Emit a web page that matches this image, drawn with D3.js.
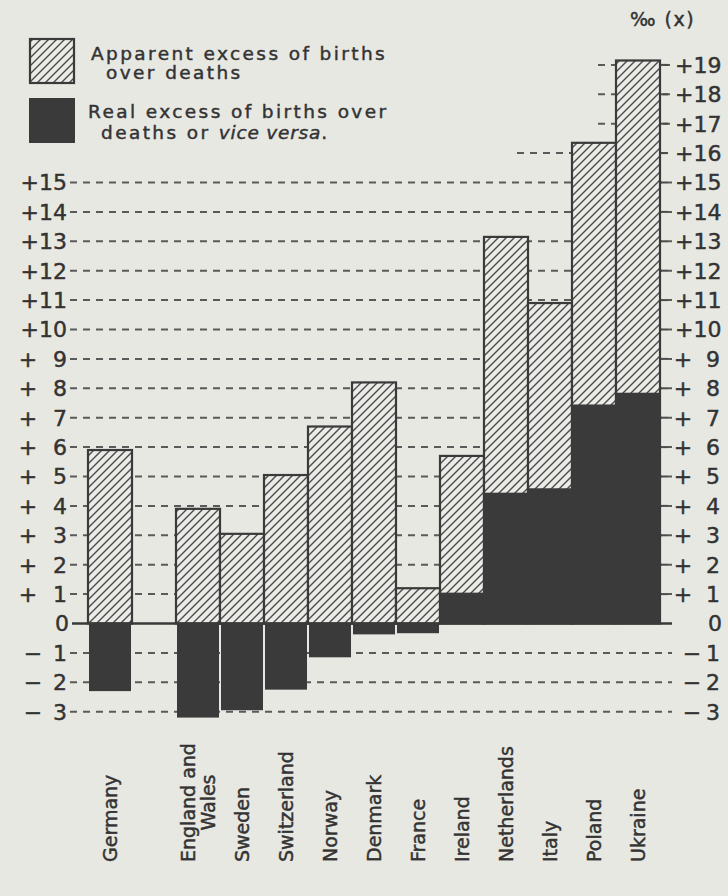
<!DOCTYPE html>
<html>
<head>
<meta charset="utf-8">
<script src="https://cdn.jsdelivr.net/npm/d3@7/dist/d3.min.js"></script>
<style>
  html, body { margin: 0; padding: 0; background: #e8e8e3; }
  svg { display: block; }
  text { font-family: "DejaVu Sans", sans-serif; fill: #333; stroke: #333; stroke-width: 0.45px; }
</style>
</head>
<body>
<script>
// ---- data ----
const categories = ["Germany", "England and Wales", "Sweden", "Switzerland", "Norway", "Denmark",
                    "France", "Ireland", "Netherlands", "Italy", "Poland", "Ukraine"];
const apparentExcess = [5.9, 3.9, 3.05, 5.05, 6.7, 8.2, 1.2, 5.7, 13.15, 10.9, 16.35, 19.15];
const realExcess = [-2.3, -3.2, -2.95, -2.25, -1.15, -0.37, -0.33, 1.05, 4.45, 4.6, 7.45, 7.85];
const leftTickValues = [-3, -2, -1, 0, 1, 2, 3, 4, 5, 6, 7, 8, 9, 10, 11, 12, 13, 14, 15];
const rightTickValues = [-3, -2, -1, 0, 1, 2, 3, 4, 5, 6, 7, 8, 9, 10, 11, 12, 13, 14, 15, 16, 17, 18, 19];
const unitLabel = "‰ (x)";
const legendItems = [
  { kind: "apparent", lines: [["Apparent excess of births"], ["over deaths"]] },
  { kind: "real", lines: [["Real excess of births over"], ["deaths or ", "vice versa", "."]] }
];

// ---- layout ----
const W = 728, H = 896;
const svg = d3.select("body").append("svg").attr("width", W).attr("height", H);
svg.append("rect").attr("width", W).attr("height", H).attr("fill", "#e8e8e3");

const ink = "#3a3a3a";
const hatchBg = "#ebebe7";

const defs = svg.append("defs");
const pat = defs.append("pattern").attr("id", "hatch").attr("patternUnits", "userSpaceOnUse")
  .attr("width", 8).attr("height", 8);
pat.append("rect").attr("width", 8).attr("height", 8).attr("fill", hatchBg);
pat.append("path").attr("d", "M-2,2 L2,-2 M0,8 L8,0 M6,10 L10,6")
  .attr("stroke", "#4a4a4a").attr("stroke-width", 1.4);

// x: a spacer slot sits between Germany and the rest
const slotDomain = [categories[0], "__gap__", ...categories.slice(1)];
const x = d3.scaleBand().domain(slotDomain).range([88, 660]).padding(0);
const bw = x.bandwidth();
const y = d3.scaleLinear().domain([-3, 19]).range([623.5 + 3 * 29.4, 623.5 - 19 * 29.4]);

const leftStart = 70, rightEnd = 672;

// ---- grid lines ----
const grid = svg.append("g");
rightTickValues.filter(t => t !== 0).forEach(t => {
  let x0 = leftStart;
  if (t > d3.max(leftTickValues)) {
    const idx = apparentExcess.findIndex(v => v >= t);
    x0 = x(categories[idx]) - (t <= 16 ? 55 : 18);
  }
  grid.append("line")
    .attr("x1", x0).attr("x2", rightEnd)
    .attr("y1", y(t)).attr("y2", y(t))
    .attr("stroke", "#5a5a5a").attr("stroke-width", 2)
    .attr("stroke-dasharray", "7,6");
});

// ---- bars ----
const bars = svg.append("g");
categories.forEach((c, i) => {
  const x0 = x(c);
  const a = apparentExcess[i], r = realExcess[i];
  bars.append("rect")
    .attr("x", x0).attr("y", y(a)).attr("width", bw).attr("height", y(0) - y(a))
    .attr("fill", "url(#hatch)").attr("stroke", ink).attr("stroke-width", 2.2);
  const top = Math.max(0, r), bot = Math.min(0, r);
  bars.append("rect")
    .attr("x", x0 + 1).attr("y", y(top)).attr("width", bw - 2).attr("height", y(bot) - y(top))
    .attr("fill", ink);
});

// zero line
svg.append("line").attr("x1", leftStart + 2).attr("x2", rightEnd)
  .attr("y1", y(0)).attr("y2", y(0)).attr("stroke", ink).attr("stroke-width", 2.4);

// right tick dashes for positive values
rightTickValues.filter(t => t > 0).forEach(t => {
  svg.append("line").attr("x1", 661).attr("x2", 668).attr("y1", y(t)).attr("y2", y(t))
    .attr("stroke", "#4a4a4a").attr("stroke-width", 2);
});

// ---- axis labels ----
const axisFont = 22;
const lg = svg.append("g").attr("font-size", axisFont);
leftTickValues.forEach(t => {
  const yy = y(t);
  const a = Math.abs(t);
  if (t === 0) {
    lg.append("text").attr("x", 69).attr("y", yy).attr("dy", "0.36em").attr("text-anchor", "end").text("0");
  } else if (t >= 10) {
    lg.append("text").attr("x", 67).attr("y", yy).attr("dy", "0.36em").attr("text-anchor", "end").text("+" + t);
  } else {
    lg.append("text").attr("x", t > 0 ? 28 : 33).attr("y", yy).attr("dy", "0.36em")
      .attr("text-anchor", "middle").text(t > 0 ? "+" : "−");
    lg.append("text").attr("x", 67).attr("y", yy).attr("dy", "0.36em").attr("text-anchor", "end").text(a);
  }
});
rightTickValues.forEach(t => {
  const yy = y(t);
  const a = Math.abs(t);
  if (t === 0) {
    lg.append("text").attr("x", 722).attr("y", yy).attr("dy", "0.36em").attr("text-anchor", "end").text("0");
  } else if (t >= 10) {
    lg.append("text").attr("x", 675).attr("y", yy).attr("dy", "0.36em").attr("text-anchor", "start").text("+" + t);
  } else {
    lg.append("text").attr("x", t > 0 ? 683 : 692).attr("y", yy).attr("dy", "0.36em")
      .attr("text-anchor", "middle").text(t > 0 ? "+" : "−");
    lg.append("text").attr("x", 720).attr("y", yy).attr("dy", "0.36em").attr("text-anchor", "end").text(a);
  }
});

// unit label
svg.append("text").attr("x", 630).attr("y", 26).attr("font-size", 19)
  .attr("letter-spacing", 1.5).text(unitLabel);

// ---- category labels (rotated) ----
const cl = svg.append("g").attr("font-size", 19);
const baseY = 862;
categories.forEach(c => {
  const cx = x(c) + bw / 2;
  const parts = c === "England and Wales" ? ["England and", "Wales"] : [c];
  if (parts.length === 1) {
    cl.append("text").attr("transform", `translate(${cx},${baseY}) rotate(-90)`)
      .attr("dy", "0.36em").attr("text-anchor", "start").text(c);
  } else {
    const t1 = cl.append("text").attr("transform", `translate(${cx - 10},${baseY}) rotate(-90)`)
      .attr("dy", "0.36em").attr("text-anchor", "start").text(parts[0]);
    const len = t1.node().getComputedTextLength();
    cl.append("text").attr("transform", `translate(${cx + 10},${baseY - len / 2}) rotate(-90)`)
      .attr("dy", "0.36em").attr("text-anchor", "middle").text(parts[1]);
  }
});

// ---- legend ----
const leg = svg.append("g");
leg.append("rect").attr("x", 30).attr("y", 39).attr("width", 44).attr("height", 44)
  .attr("fill", "url(#hatch)").attr("stroke", ink).attr("stroke-width", 2.2);
leg.append("rect").attr("x", 29).attr("y", 98).attr("width", 46).attr("height", 45).attr("fill", ink);

const legPos = [
  [{ x: 91, y: 60 }, { x: 106, y: 79 }],
  [{ x: 88, y: 118 }, { x: 101, y: 139 }]
];
legendItems.forEach((item, i) => {
  item.lines.forEach((segs, j) => {
    const t = leg.append("text").attr("x", legPos[i][j].x).attr("y", legPos[i][j].y)
      .attr("font-size", 18.5).attr("letter-spacing", 2.4);
    segs.forEach((s, k) => {
      const ts = t.append("tspan").text(s);
      if (s === "vice versa") ts.attr("font-style", "italic").attr("letter-spacing", 0.8);
    });
  });
});
</script>
</body>
</html>
